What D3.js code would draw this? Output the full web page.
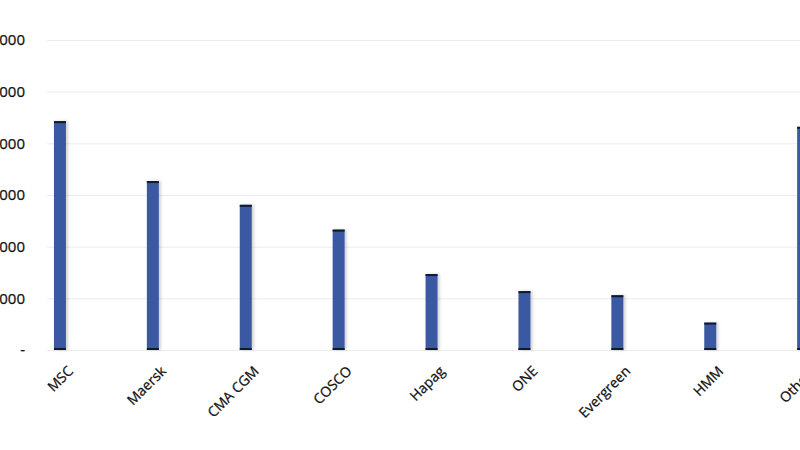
<!DOCTYPE html>
<html>
<head>
<meta charset="utf-8">
<script src="https://cdn.jsdelivr.net/npm/d3@7"></script>
<style>
  body { margin: 0; background: #fff; }
  svg { display: block; font-family: "Open Sans", "DejaVu Sans", sans-serif; }
  .lbl { fill: #111; stroke: #111; stroke-width: 0.25px; }
</style>
</head>
<body>
<div id="chart"></div>
<script>
// carriers and their fleet capacity
var carriers = ["MSC", "Maersk", "CMA CGM", "COSCO", "Hapag", "ONE", "Evergreen", "HMM", "Others"];
var capacity = [4430000, 3270000, 2810000, 2330000, 1470000, 1140000, 1060000, 530000, 4320000];
var yTicks = [0, 1000000, 2000000, 3000000, 4000000, 5000000, 6000000];

var svgWidth = 800;
var svgHeight = 450;

var svg = d3.select("#chart")
  .append("svg")
  .attr("width", svgWidth)
  .attr("height", svgHeight);

var defs = svg.append("defs");
var shadow = defs.append("filter")
  .attr("id", "shadow")
  .attr("x", "-50%").attr("y", "-5%")
  .attr("width", "200%").attr("height", "110%");
shadow.append("feDropShadow")
  .attr("dx", 2).attr("dy", 0)
  .attr("stdDeviation", 1.5)
  .attr("flood-color", "#000")
  .attr("flood-opacity", 0.18);

var data = carriers.map(function(c, i) {
  return { name: c, value: capacity[i] };
});

// plot area runs past the right edge, like the cropped original
var yScale = d3.scaleLinear()
  .domain([0, 6000000])
  .range([350, 40]);

var xScale = d3.scaleBand()
  .domain(carriers)
  .range([13.5, 849.6])
  .paddingInner(0.871)
  .paddingOuter(0.4355);

// gridlines
svg.append("g")
  .selectAll("line")
  .data(yTicks)
  .enter()
  .append("line")
  .attr("x1", 47)
  .attr("x2", svgWidth)
  .attr("y1", d => yScale(d) + 0.5)
  .attr("y2", d => yScale(d) + 0.5)
  .attr("stroke", "#ececec")
  .attr("stroke-width", 1);

// y labels (left part falls outside the frame, as in the original crop)
var fmt = d3.format(",");
svg.append("g")
  .selectAll("text")
  .data(yTicks)
  .enter()
  .append("text")
  .attr("class", "lbl")
  .attr("x", 25)
  .attr("y", d => yScale(d))
  .attr("dy", "0.35em")
  .attr("text-anchor", "end")
  .attr("font-size", "15px")
  .text(d => d === 0 ? "-" : fmt(d));

// bars
var bars = svg.append("g")
  .selectAll("g")
  .data(data)
  .enter()
  .append("g");

bars.append("rect")
  .attr("x", d => xScale(d.name))
  .attr("y", d => yScale(d.value))
  .attr("width", xScale.bandwidth())
  .attr("height", d => yScale(0) - yScale(d.value))
  .attr("fill", "#3a59a3")
  .attr("filter", "url(#shadow)");

// dark caps at top and bottom
bars.append("rect")
  .attr("x", d => xScale(d.name))
  .attr("y", d => yScale(d.value))
  .attr("width", xScale.bandwidth())
  .attr("height", 2)
  .attr("fill", "#111a2c");

bars.append("rect")
  .attr("x", d => xScale(d.name))
  .attr("y", yScale(0) - 2)
  .attr("width", xScale.bandwidth())
  .attr("height", 2)
  .attr("fill", "#111a2c");

// category labels, rotated
svg.append("g")
  .selectAll("text")
  .data(carriers)
  .enter()
  .append("text")
  .attr("class", "lbl")
  .attr("transform", d => `translate(${xScale(d) + xScale.bandwidth() / 2 + 14}, 372) rotate(-45)`)
  .attr("text-anchor", "end")
  .attr("font-size", "14px")
  .text(d => d);
</script>
</body>
</html>
